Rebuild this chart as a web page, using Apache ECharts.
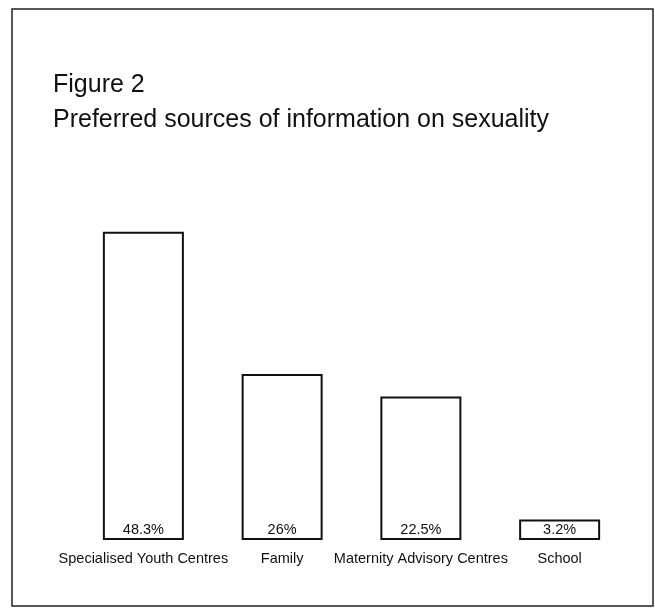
<!DOCTYPE html>
<html>
<head>
<meta charset="utf-8">
<style>
  html, body { margin: 0; padding: 0; background: #ffffff; }
  #chart { width: 655px; height: 608px; }
</style>
<script src="https://cdn.jsdelivr.net/npm/echarts@6/dist/echarts.min.js"></script>
</head>
<body>
<div id="chart"></div>
<script>
const figureLabel = "Figure 2";
const chartTitle = "Preferred sources of information on sexuality";
const categories = ["Specialised Youth Centres", "Family", "Maternity Advisory Centres", "School"];
const shares = [48.3, 26, 22.5, 3.2];

const chart = echarts.init(document.getElementById('chart'), null, { renderer: 'canvas' });
const FONT = '"Liberation Sans", Arial, Helvetica, sans-serif';

chart.setOption({
  backgroundColor: '#ffffff',
  animation: false,
  grid: { left: 74, right: 26, top: 221, bottom: 68, containLabel: false },
  xAxis: {
    type: 'category',
    data: categories,
    axisLine: { show: false },
    axisTick: { show: false },
    splitLine: { show: false },
    axisLabel: {
      color: '#111',
      fontFamily: FONT,
      fontSize: 14.5,
      margin: 11,
      interval: 0
    }
  },
  yAxis: {
    type: 'value',
    min: 0,
    max: 50,
    show: false
  },
  series: [{
    type: 'bar',
    data: shares,
    barWidth: 81,
    itemStyle: {
      color: '#ffffff',
      borderColor: '#111',
      borderWidth: 2
    },
    label: {
      show: true,
      position: 'insideBottom',
      distance: 3,
      color: '#111',
      fontFamily: FONT,
      fontSize: 14.5,
      formatter: function (p) { return p.value + '%'; }
    }
  }],
  graphic: [
    {
      type: 'rect',
      shape: { x: 12, y: 9, width: 641, height: 597 },
      style: { fill: 'none', stroke: '#222', lineWidth: 1.5 },
      silent: true
    },
    {
      type: 'text',
      x: 53, y: 85,
      style: {
        text: figureLabel,
        fill: '#111',
        font: '25px ' + FONT,
        verticalAlign: 'middle',
        align: 'left'
      }
    },
    {
      type: 'text',
      x: 53, y: 120,
      style: {
        text: chartTitle,
        fill: '#111',
        font: '25px ' + FONT,
        verticalAlign: 'middle',
        align: 'left'
      }
    }
  ]
});
</script>
</body>
</html>
